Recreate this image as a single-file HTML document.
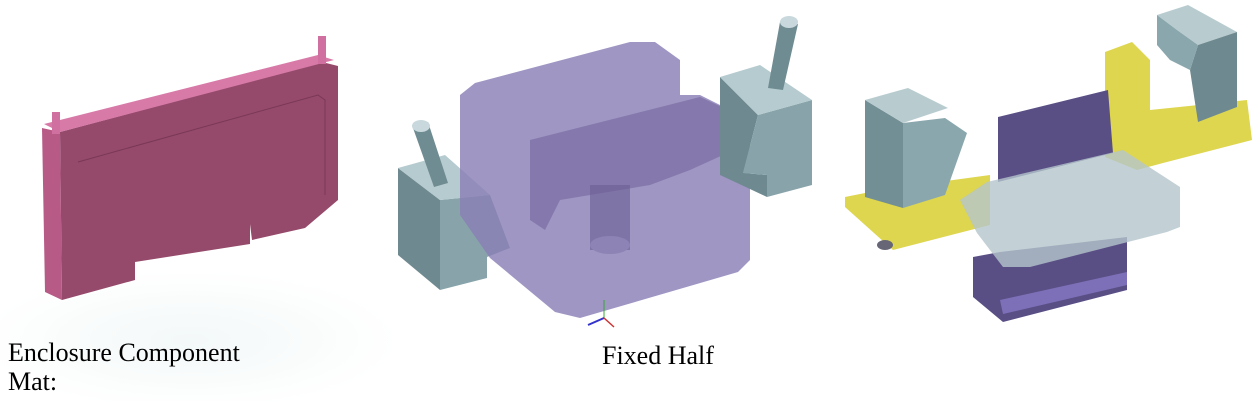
<!DOCTYPE html>
<html><head><style>
body{margin:0;width:1252px;height:401px;background:#fff;overflow:hidden;position:relative;font-family:"Liberation Serif",serif;}
.t{position:absolute;font-size:26px;color:#000;white-space:nowrap;}
</style></head><body>
<svg width="1252" height="401" style="position:absolute;left:0;top:0">
<defs><radialGradient id="g" cx="0.5" cy="0.5" r="0.5"><stop offset="0" stop-color="#f3f8f8"/><stop offset="1" stop-color="#fff"/></radialGradient></defs>
<ellipse cx="190" cy="340" rx="210" ry="70" fill="url(#g)"/>
<!-- enclosure -->
<polygon points="60,132 322,62 338,66 338,200 305,228 252,240 250,224 250,244 135,262 135,280 62,300" fill="#954a6b"/>
<polygon points="42,128 60,132 62,300 45,292" fill="#b85a86"/>
<polygon points="44,124 318,55 334,60 60,132" fill="#d87aa8"/>
<rect x="318" y="36" width="8" height="28" fill="#d070a0"/>
<rect x="52" y="112" width="8" height="22" fill="#d070a0"/>
<polyline points="78,162 318,95 325,100 325,195" fill="none" stroke="#7a3856" stroke-width="1"/>
<!-- fixed half -->
<polygon points="398,168 440,200 440,290 398,255" fill="#6e8a90"/>
<polygon points="440,200 490,195 510,248 487,257 487,278 440,290" fill="#88a4aa"/>
<polygon points="398,168 445,155 490,195 440,200" fill="#b6cbcf"/>
<polygon points="413,128 428,122 448,183 434,187" fill="#6f8c92"/>
<ellipse cx="421" cy="126" rx="9" ry="6" fill="#c8d8dc"/>
<polygon points="460,95 475,83 630,42 655,42 680,60 680,95 700,95 750,120 750,260 738,272 580,318 555,312 490,258 460,215" fill="#8a7fb6" fill-opacity="0.82"/>
<polygon points="530,140 700,97 750,120 745,145 690,170 650,185 560,200 545,230 530,220" fill="#6f6199" fill-opacity="0.55"/>
<rect x="590" y="185" width="40" height="65" fill="#6a5e92" fill-opacity="0.6"/>
<ellipse cx="610" cy="245" rx="20" ry="9" fill="#8d83b4"/>
<polygon points="720,77 758,115 743,173 767,175 767,197 720,175" fill="#6e8a90"/>
<polygon points="758,115 812,100 812,185 767,197 767,175 743,173" fill="#88a4aa"/>
<polygon points="720,77 760,65 812,100 758,115" fill="#b6cbcf"/>
<polygon points="780,22 798,24 783,90 768,88" fill="#6f8c92"/>
<ellipse cx="789" cy="22" rx="9" ry="6" fill="#c8d8dc"/>
<line x1="604" y1="300" x2="604" y2="318" stroke="#3a3" stroke-width="1"/>
<line x1="604" y1="318" x2="588" y2="325" stroke="#33c" stroke-width="2"/>
<line x1="604" y1="318" x2="614" y2="327" stroke="#c33" stroke-width="1.5"/>
<!-- right assembly -->
<polygon points="845,197 880,190 990,175 990,225 893,250 845,207" fill="#d8cf30" fill-opacity="0.85"/>
<polygon points="1105,52 1132,42 1150,60 1150,110 1247,100 1252,140 1163,163 1137,170 1105,157" fill="#d8cf30" fill-opacity="0.85"/>
<polygon points="998,117 1108,90 1113,153 998,182" fill="#5a4f85"/>
<polygon points="973,257 1000,252 1127,237 1127,290 1003,322 973,297" fill="#5a4f85"/>
<polygon points="1000,300 1127,272 1127,285 1003,314" fill="#7e70b8"/>
<polygon points="987,182 1123,150 1180,187 1180,227 1167,232 1030,267 1003,267 977,233 960,200" fill="#b4c6cc" fill-opacity="0.8"/>
<polygon points="865,100 903,123 903,208 865,197" fill="#728f95"/>
<polygon points="903,123 945,118 967,133 945,195 903,208" fill="#8aa7ad"/>
<polygon points="865,100 908,88 948,108 903,123" fill="#b8ccd0"/>
<polygon points="1157,15 1188,5 1237,32 1198,45 1177,30" fill="#b8ccd0"/>
<polygon points="1198,45 1237,32 1237,107 1198,122 1190,70" fill="#6e8a90"/>
<polygon points="1157,15 1177,30 1198,45 1190,70 1170,60 1157,45" fill="#8aa7ad"/>
<ellipse cx="885" cy="245" rx="8" ry="5" fill="#667"/>
</svg>
<div class="t" style="left:8px;top:338px">Enclosure Component</div>
<div class="t" style="left:8px;top:367px">Mat:</div>
<div class="t" style="left:602px;top:341px">Fixed Half</div>
</body></html>
